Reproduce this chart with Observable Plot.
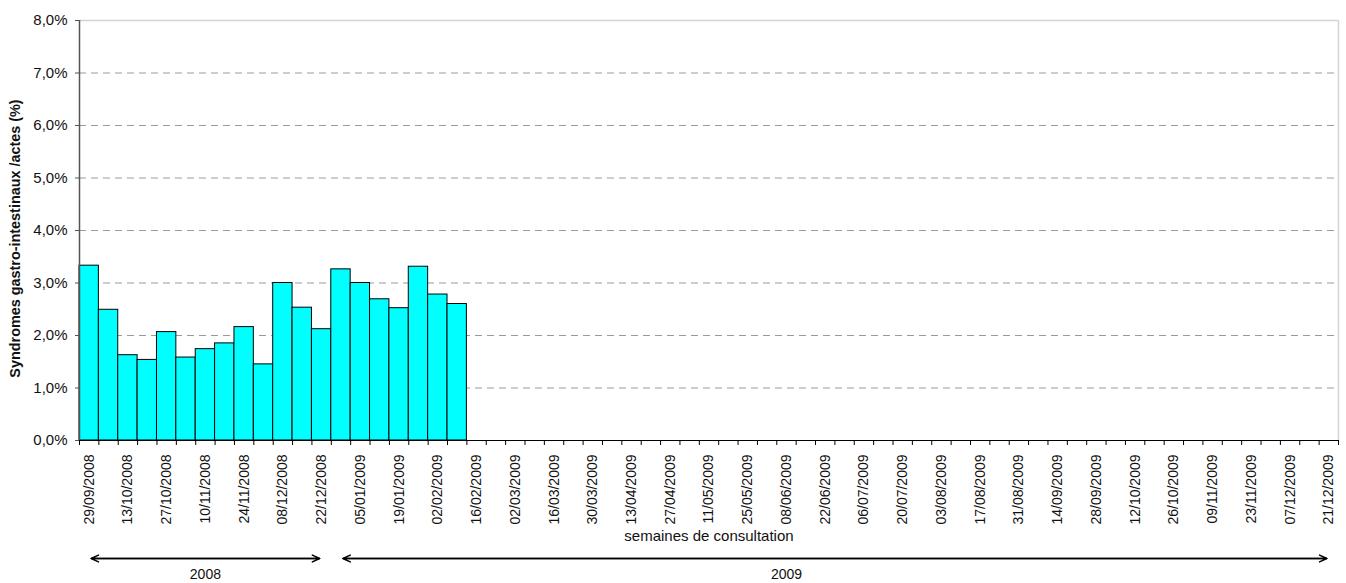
<!DOCTYPE html>
<html>
<head>
<meta charset="utf-8">
<script src="https://cdn.jsdelivr.net/npm/d3@7"></script>
<script src="https://cdn.jsdelivr.net/npm/@observablehq/plot@0.6"></script>
<style>
  html, body { margin: 0; padding: 0; background: #fff; }
  #chart { width: 1346px; height: 583px; }
</style>
</head>
<body>
<div id="chart"></div>
<script>
// Weekly categories (x axis)
const weeks = [
  "29/09/2008","06/10/2008","13/10/2008","20/10/2008","27/10/2008","03/11/2008","10/11/2008",
  "17/11/2008","24/11/2008","01/12/2008","08/12/2008","15/12/2008","22/12/2008","29/12/2008",
  "05/01/2009","12/01/2009","19/01/2009","26/01/2009","02/02/2009","09/02/2009","16/02/2009",
  "23/02/2009","02/03/2009","09/03/2009","16/03/2009","23/03/2009","30/03/2009","06/04/2009",
  "13/04/2009","20/04/2009","27/04/2009","04/05/2009","11/05/2009","18/05/2009","25/05/2009",
  "01/06/2009","08/06/2009","15/06/2009","22/06/2009","29/06/2009","06/07/2009","13/07/2009",
  "20/07/2009","27/07/2009","03/08/2009","10/08/2009","17/08/2009","24/08/2009","31/08/2009",
  "07/09/2009","14/09/2009","21/09/2009","28/09/2009","05/10/2009","12/10/2009","19/10/2009",
  "26/10/2009","02/11/2009","09/11/2009","16/11/2009","23/11/2009","30/11/2009","07/12/2009",
  "14/12/2009","21/12/2009"
];
// Syndromes gastro-intestinaux / actes (%), first weeks only
const rates = [3.33, 2.49, 1.625, 1.535, 2.065, 1.58, 1.74, 1.85, 2.16, 1.45,
               3.00, 2.53, 2.12, 3.26, 3.00, 2.69, 2.52, 3.31, 2.78, 2.60];
// Labelled weeks (every other week)
const labelWeeks = weeks.filter((w, i) => i % 2 === 0);
// Y ticks (%)
const yTicks = [0, 1, 2, 3, 4, 5, 6, 7, 8];
// Year periods
const periods = [
  {year: "2008", first: "29/09/2008", last: "22/12/2008", labelWeek: "10/11/2008"},
  {year: "2009", first: "29/12/2008", last: "21/12/2009", labelWeek: "08/06/2009"}
];
const xTitle = "semaines de consultation";
const yTitle = "Syndromes gastro-intestinaux /actes (%)";

const pos = w => weeks.indexOf(w);
const bars = rates.map((v, i) => ({week: weeks[i], v}));
const fmt = d => d.toFixed(1).replace(".", ",") + "%";

const chart = Plot.plot({
  width: 1346,
  height: 583,
  marginLeft: 79,
  marginRight: 8,
  marginTop: 20,
  marginBottom: 143,
  style: {fontFamily: "'Liberation Sans', Arial, sans-serif", background: "#fff", color: "#111"},
  x: {type: "linear", domain: [0, weeks.length], axis: null},
  y: {domain: [0, 8], axis: null},
  marks: [
    Plot.ruleY(yTicks.filter(d => d > 0 && d < 8), {stroke: "#9a9a9a", strokeDasharray: "7,5"}),
    Plot.ruleY([8], {stroke: "#d4d4d4", strokeWidth: 1.5}),
    Plot.ruleX([weeks.length], {stroke: "#d4d4d4", strokeWidth: 1.5}),
    Plot.rectY(bars, {x1: d => pos(d.week), x2: d => pos(d.week) + 1, y: "v",
      fill: "#00FFFF", stroke: "#000", strokeWidth: 1}),
    Plot.ruleY([0], {stroke: "#000", strokeWidth: 1}),
    Plot.ruleX([0], {stroke: "#555", strokeWidth: 1.5}),
    // x ticks at week boundaries
    Plot.axisX(d3.range(weeks.length + 1), {tickSize: 5, tickFormat: () => "", stroke: "#000"}),
    // x tick labels centred on labelled weeks
    Plot.axisX(labelWeeks.map(w => pos(w) + 0.5), {
      tickSize: 0, tickPadding: 14, tickRotate: -90, fontSize: 14,
      tickFormat: d => weeks[Math.round(d - 0.5)], label: null
    }),
    Plot.axisY(yTicks, {tickSize: 4, tickPadding: 8, tickFormat: fmt, fontSize: 15, label: null, stroke: "#555"}),
    Plot.text([xTitle], {frameAnchor: "bottom", dy: 100, fontSize: 15, text: d => d}),
    Plot.text([yTitle], {frameAnchor: "left", dx: -64, dy: 8, rotate: -90, fontSize: 14.4,
      textAnchor: "middle", fontWeight: "bold", text: d => d}),
    // year brackets (double-headed arrows)
    Plot.arrow(periods, {x1: d => pos(d.first) + 0.5, x2: d => pos(d.last) + 0.5, y1: 0, y2: 0,
      dy: 118, stroke: "#000", strokeWidth: 1.5, headLength: 8, headAngle: 50,
      insetStart: 2, insetEnd: 2}),
    Plot.arrow(periods, {x1: d => pos(d.last) + 0.5, x2: d => pos(d.first) + 0.5, y1: 0, y2: 0,
      dy: 118, stroke: "#000", strokeWidth: 1.5, headLength: 8, headAngle: 50,
      insetStart: 2, insetEnd: 2}),
    Plot.text(periods, {x: d => pos(d.labelWeek) + 0.5, y: 0, dy: 134, text: "year", fontSize: 14})
  ]
});
document.getElementById("chart").appendChild(chart);
</script>
</body>
</html>
